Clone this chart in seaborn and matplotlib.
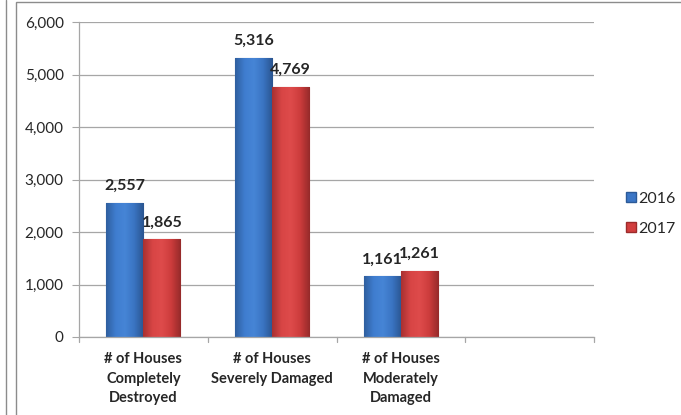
import pandas as pd
import numpy as np
import matplotlib.pyplot as plt
import seaborn as sns
from matplotlib.patches import Rectangle, Patch
from matplotlib.lines import Line2D
from matplotlib.colors import LinearSegmentedColormap

# ---------------------- DATA ----------------------
categories = ["# of Houses\nCompletely\nDestroyed",
              "# of Houses\nSeverely Damaged",
              "# of Houses\nModerately\nDamaged"]
years = ["2016", "2017"]
values_2016 = [2557, 5316, 1161]
values_2017 = [1865, 4769, 1261]
yticks = [0, 1000, 2000, 3000, 4000, 5000, 6000]

df = pd.DataFrame({
    "Category": categories * 2,
    "Year": ["2016"] * 3 + ["2017"] * 3,
    "Houses": values_2016 + values_2017,
})

colors = {"2016": "#3b76c6", "2017": "#d23e3e"}
edges = {"2016": "#2c5a98", "2017": "#9c2b2b"}
# excel-like shading across each bar
shades = {
    "2016": ["#2f5f9f", "#3f7dcf", "#4685d6", "#3a74c2", "#2a5590"],
    "2017": ["#a83131", "#d84545", "#de4b4b", "#cc3c3c", "#962a2a"],
}

# ---------------------- PLOT ----------------------
sns.set_style("white")
plt.rcParams['font.family'] = ['Lato', 'DejaVu Sans']

fig = plt.figure(figsize=(6.81, 4.15), dpi=100)
ax = fig.add_axes([79 / 681, 1 - 337 / 415, (594 - 79) / 681, (337 - 22) / 415])

sns.barplot(data=df, x="Category", y="Houses", hue="Year", palette=colors,
            width=0.575, ax=ax, legend=False, saturation=1)

ax.set_xlim(-0.5, 3.5)
ax.set_ylim(0, 6000)

grad = np.linspace(0, 1, 64).reshape(1, -1)
for cont, yr in zip(ax.containers, years):
    cmap = LinearSegmentedColormap.from_list("s" + yr, shades[yr])
    for bar in cont:
        bar.set_edgecolor(edges[yr])
        bar.set_linewidth(0.8)
        x0, w, h = bar.get_x(), bar.get_width(), bar.get_height()
        im = ax.imshow(grad, cmap=cmap, aspect="auto", extent=(x0, x0 + w, 0, h),
                       interpolation="bicubic", zorder=bar.get_zorder())
        im.set_clip_path(bar)
    ax.bar_label(cont, labels=[f"{v:,.0f}" for v in cont.datavalues],
                 padding=7, fontsize=11.5, fontweight="bold")

# 4 category slots, last one empty
ax.set_xlim(-0.5, 3.5)
ax.set_ylim(0, 6000)
ax.set_yticks(yticks)
ax.set_yticklabels([f"{t:,}" for t in yticks], fontsize=11)
ax.set_xticks([0, 1, 2])
ax.set_xticklabels(categories, fontsize=10.5, fontweight="bold", linespacing=1.5)
ax.set_xlabel("")
ax.set_ylabel("")

# Excel style gridlines and axes
ax.yaxis.grid(True, color="#a6a6a6", linewidth=0.9)
ax.set_axisbelow(True)
for s in ["top", "right"]:
    ax.spines[s].set_visible(False)
for s in ["left", "bottom"]:
    ax.spines[s].set_color("#a6a6a6")
    ax.spines[s].set_linewidth(0.9)
ax.tick_params(axis="y", length=5, color="#a6a6a6", pad=6, direction="out", left=True)
ax.tick_params(axis="x", length=0, pad=11)
# category boundary tick marks
for xb in np.arange(-0.5, 4, 1.0):
    ax.plot([xb, xb], [0, -90], color="#a6a6a6", lw=0.9, clip_on=False)

# legend
handles = [Patch(facecolor=colors[y], edgecolor=edges[y], label=y) for y in years]
fig.legend(handles=handles, loc="center left", bbox_to_anchor=(612 / 681, 1 - 214 / 415),
           frameon=False, fontsize=11.5, handlelength=0.6, handleheight=0.6,
           handletextpad=0.15, labelspacing=1.0)

# frames
fig.patches.append(Rectangle((16 / 681, -0.1), 1.0, 1.1 - 2 / 415, transform=fig.transFigure,
                             fill=False, edgecolor="#8c8c8c", linewidth=1.0))
fig.lines.append(Line2D([6 / 681, 6 / 681], [0, 1], transform=fig.transFigure,
                        color="#8c8c8c", linewidth=1.0))

fig.savefig("out.png", dpi=100)
